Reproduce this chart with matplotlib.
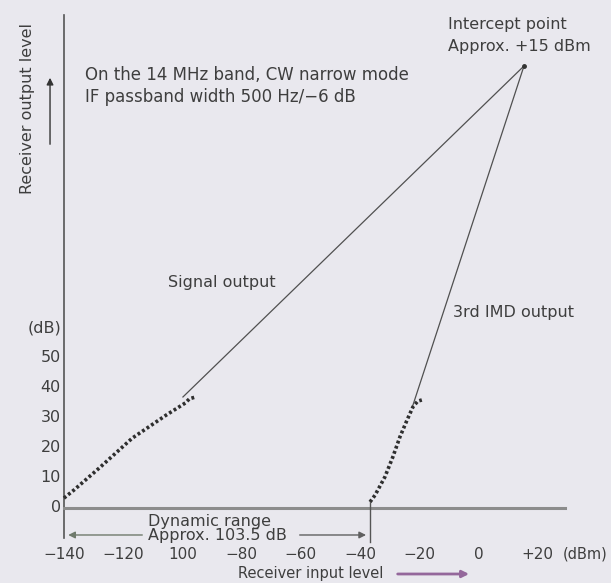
import matplotlib
matplotlib.use('Agg')
import matplotlib.pyplot as plt

signal_x = [-140, -136.6, -128.1, -116.9, -105.4, -99.0, -97.6, -95.5]
signal_y = [3.3, 6.0, 13.3, 23.3, 31.0, 35.0, 36.4, 37.0]

imd_x = [-36.6, -34.9, -31.6, -28.9, -26.5, -24.1, -22.1, -20.5, -19.1]
imd_y = [2.0, 4.3, 10.3, 17.0, 23.7, 29.3, 33.7, 35.6, 36.0]

# 점근선 (교차점까지)
intercept = (15.4, 147.3)
signal_start = (-99.8, 37.0)
imd_start = (-22.1, 34.3)

dynamic_range = 103.5
x_min = -140

x_ticks = [-140, -120, -100, -80, -60, -40, -20, 0, 20]
x_tick_labels = ['\u2212140', '\u2212120', '100', '\u221280', '\u221260', '\u221240', '\u221220', '0', '+20']
y_ticks = [0, 10, 20, 30, 40, 50, 60]
y_tick_labels = ['0', '10', '20', '30', '40', '50', '(dB)']

bg = '#e9e8ee'
ink = '#3e3e3e'

fig = plt.figure(figsize=(6.11, 5.83), dpi=100, facecolor=bg)
ax = fig.add_axes([0, 0, 1, 1])
ax.set_facecolor(bg)
ax.set_xlim(-161.6, 44.8)
ax.set_ylim(-25, 169.3)
ax.axis('off')

# 축
ax.plot([x_min, x_min], [-10, 164.3], color='#555555', lw=1.2)
ax.plot([x_min, 29.3], [0, 0], color='#8c8c8c', lw=2.2)

# 측정 곡선 (점선)
ax.plot(signal_x, signal_y, color='#2e2e2e', lw=2.6, ls=(0, (0.8, 0.7)))
ax.plot(imd_x, imd_y, color='#2e2e2e', lw=2.6, ls=(0, (0.8, 0.7)))

# 교차점까지의 직선
ax.plot([signal_start[0], intercept[0]], [signal_start[1], intercept[1]], color='#505050', lw=0.9)
ax.plot([imd_start[0], intercept[0]], [imd_start[1], intercept[1]], color='#505050', lw=0.9)
ax.plot([intercept[0]], [intercept[1]], 'o', color='#333333', ms=2.5)

# 다이나믹 레인지
dr_end = x_min + dynamic_range
ax.plot([dr_end, dr_end], [imd_y[0], -11.3], color='#555555', lw=1.0)
ax.annotate('', xy=(x_min + 0.5, -9), xytext=(-112.6, -9),
            arrowprops=dict(arrowstyle='-|>', color='#6f7a6c', lw=1.0, mutation_scale=10))
ax.annotate('', xy=(dr_end - 0.5, -9), xytext=(-61.3, -9),
            arrowprops=dict(arrowstyle='-|>', color='#606060', lw=1.0, mutation_scale=10))
ax.text(-111.6, -4.5, 'Dynamic range', fontsize=11.5, color=ink, va='center', ha='left')
ax.text(-111.6, -9.3, 'Approx. 103.5 dB', fontsize=11.5, color=ink, va='center', ha='left')

# 눈금 라벨
for xv, lab in zip(x_ticks, x_tick_labels):
    ax.text(xv, -15.5, lab, fontsize=11, color=ink, ha='center', va='center')
for yv, lab in zip(y_ticks, y_tick_labels):
    ax.text(-141, yv, lab, fontsize=11.5, color=ink, ha='right', va='center')
ax.text(28.6, -15.5, '(dBm)', fontsize=10.5, color=ink, ha='left', va='center')

# 축 이름
ax.text(-56.6, -22.0, 'Receiver input level', fontsize=10.5, color=ink, ha='center', va='center')
ax.annotate('', xy=(-2.2, -22.0), xytext=(-28.2, -22.0),
            arrowprops=dict(arrowstyle='-|>', color='#94679b', lw=2.0, mutation_scale=10))
ax.text(-152.3, 133, 'Receiver output level', fontsize=11.5, color=ink, rotation=90,
        ha='center', va='center')
ax.annotate('', xy=(-144.7, 144.3), xytext=(-144.7, 120.3),
            arrowprops=dict(arrowstyle='-|>', color='#333333', lw=1.0, mutation_scale=10))

# 설명 문구
ax.text(-132.9, 144.3, 'On the 14 MHz band, CW narrow mode', fontsize=12, color=ink, va='center')
ax.text(-132.9, 137.0, 'IF passband width 500 Hz/\u22126 dB', fontsize=12, color=ink, va='center')
ax.text(-10.3, 161.3, 'Intercept point', fontsize=11.5, color=ink, va='center')
ax.text(-10.3, 153.7, 'Approx. +15 dBm', fontsize=11.5, color=ink, va='center')
ax.text(-104.9, 75.0, 'Signal output', fontsize=11.5, color=ink, va='center')
ax.text(-8.6, 65.0, '3rd IMD output', fontsize=11.5, color=ink, va='center')

plt.savefig('out.png', dpi=100, facecolor=bg)
